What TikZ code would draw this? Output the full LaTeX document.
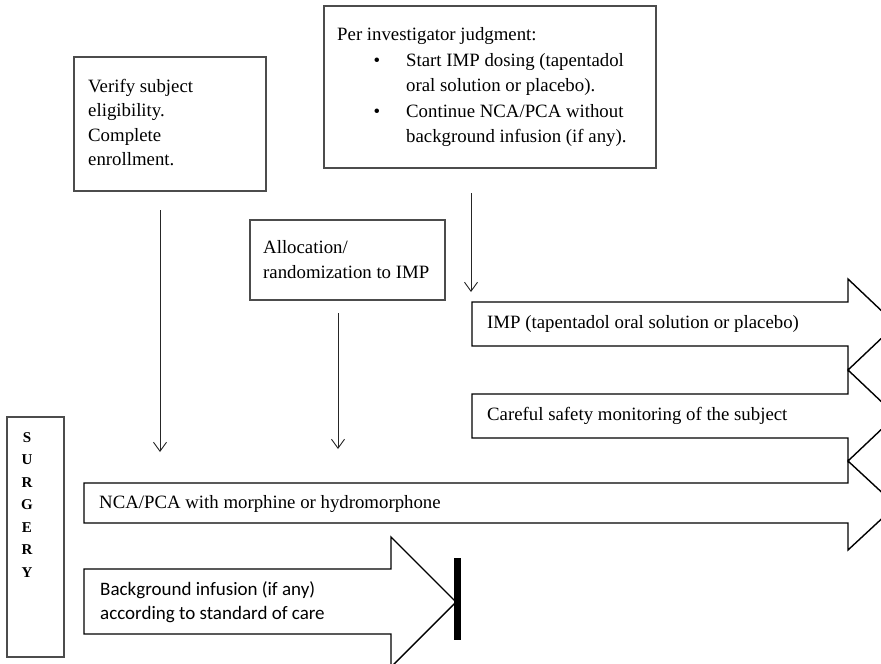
\documentclass[tikz,border=0pt]{standalone}
\usepackage{fontspec}
\setmainfont{Liberation Serif}
\newfontfamily\calfont{Carlito}
\usetikzlibrary{arrows.meta}
\tikzset{
  box/.style={draw=black!70, line width=1.3pt},
  blockarrow/.style={draw=black, line width=1.4pt, line join=miter},
  txt/.style={anchor=base west, inner sep=0pt, font=\fontsize{18.8}{24.5}\selectfont},
  sanstxt/.style={anchor=base west, inner sep=0pt, font=\calfont\fontsize{19}{24}\selectfont},
  letter/.style={anchor=base, inner sep=0pt, font=\bfseries\fontsize{15}{18}\selectfont},
  flow/.style={draw=black!85, line width=0.9pt, -{Straight Barb[length=9pt,width=13pt,line width=0.9pt]}},
}
\begin{document}
\begin{tikzpicture}[x=1pt,y=-1pt]
\useasboundingbox (0,0) rectangle (881,664);
\clip (0,0) rectangle (881,664);
\fill[white] (0,0) rectangle (881,664);

% boxes
\draw[box] (74,57) rectangle (266,191);
\draw[box] (324,6) rectangle (656,168);
\draw[box] (250,220) rectangle (445,300);
\draw[box] (7,417) rectangle (64,657);

% Verify box text
\node[txt] (v1) at (88,92) {Verify subject};
\node[txt] (v2) at (88,116.5) {eligibility.};
\node[txt] (v3) at (88,141) {Complete};
\node[txt] (v4) at (88,165.5) {enrollment.};

% Per investigator box text
\node[txt] (p0) at (337,40) {Per investigator judgment:};
\node[txt, anchor=base] (b1) at (377,66) {•};
\node[txt] (p1) at (406,66) {Start IMP dosing (tapentadol};
\node[txt] (p2) at (406,91) {oral solution or placebo).};
\node[txt, anchor=base] (b2) at (377,117) {•};
\node[txt] (p3) at (406,117) {Continue NCA/PCA without};
\node[txt] (p4) at (406,142) {background infusion (if any).};

% Allocation box text
\node[txt] (a1) at (263,253) {Allocation/};
\node[txt] (a2) at (263,278) {randomization to IMP};

% SURGERY
\foreach \l [count=\i from 0] in {S,U,R,G,E,R,Y}
  \node[letter] (s\i) at (27,{442+22.5*\i}) {\l};

% block arrows
\draw[blockarrow] (472,302) -- (848,302) -- (848,279) -- (896,324.5) -- (848,370) -- (848,346) -- (472,346) -- cycle;
\draw[blockarrow] (472,394) -- (848,394) -- (848,370) -- (896,415.5) -- (848,461) -- (848,438) -- (472,438) -- cycle;
\draw[blockarrow] (84,483) -- (848,483) -- (848,461) -- (896,505.5) -- (848,550) -- (848,523) -- (84,523) -- cycle;
\draw[blockarrow] (84,569) -- (391,569) -- (391,537) -- (456,602) -- (391,667) -- (391,634) -- (84,634) -- cycle;
\fill[black] (454,558) rectangle (461,640);

\node[txt] (imp) at (487,328) {IMP (tapentadol oral solution or placebo)};
\node[txt] (care) at (487,420) {Careful safety monitoring of the subject};
\node[txt] (nca) at (99,508) {NCA/PCA with morphine or hydromorphone};
\node[sanstxt] (bg1) at (100,595) {Background infusion (if any)};
\node[sanstxt] (bg2) at (100,619) {according to standard of care};

% vertical arrows
\coordinate (vs) at (160,210);
\coordinate (ve) at (160,452);
\coordinate (as) at (338,313);
\coordinate (ae) at (338,449);
\coordinate (ps) at (471,193);
\coordinate (pe) at (471,292);
\draw[flow] (vs) -- (ve);
\draw[flow] (as) -- (ae);
\draw[flow] (ps) -- (pe);
\end{tikzpicture}
\end{document}
